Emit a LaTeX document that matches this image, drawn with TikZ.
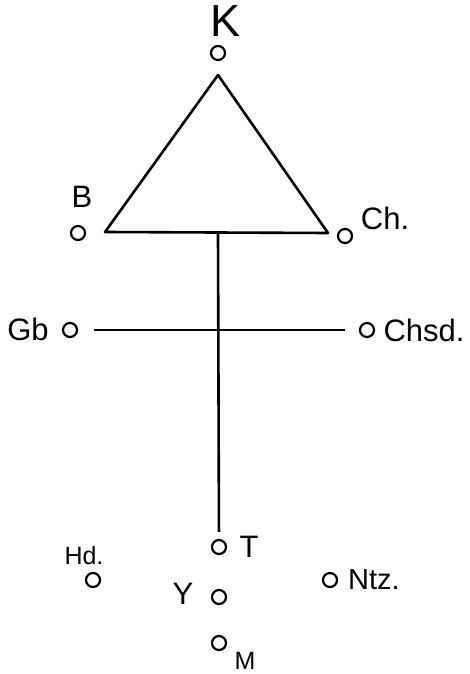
\documentclass[tikz,border=0pt]{standalone}
\usepackage{fontspec}
\setmainfont{Liberation Sans}
\usetikzlibrary{positioning}
\tikzset{
  station/.style={
    circle,
    draw,
    line width=2.2pt,
    minimum size=14pt,
    inner sep=0pt
  },
  bigtag/.style={inner sep=0pt, font=\fontsize{45}{47}\selectfont},
  tag/.style={inner sep=0pt, font=\fontsize{31}{33}\selectfont},
  smalltag/.style={inner sep=0pt, font=\fontsize{25}{27}\selectfont},
  edge/.style={line width=2.6pt, line join=round}
}
\begin{document}
\begin{tikzpicture}[x=1pt, y=-1pt]
\useasboundingbox (0,0) rectangle (469,674);
% stations
\node[station] (k) at (218,53) {};
\node[station] (b) at (78,233) {};
\node[station] (ch) at (345,236) {};
\node[station] (gb) at (70,330) {};
\node[station] (chsd) at (367,330) {};
\node[station] (t) at (219,547) {};
\node[station] (hd) at (93,580) {};
\node[station] (y) at (219,597) {};
\node[station] (m) at (219,643) {};
\node[station] (ntz) at (330,580) {};
% labels
\node[bigtag] (klbl) at (226,21) {K};
\node[tag] (blbl) at (82,197) {B};
\node[tag] (chlbl) at (385,218) {Ch.};
\node[tag] (gblbl) at (28,329) {Gb};
\node[tag] (chsdlbl) at (424,330) {Chsd.};
\node[tag] (tlbl) at (249,547) {T};
\node[smalltag] (hdlbl) at (84,556) {Hd.};
\node[tag] (ylbl) at (183,594) {Y};
\node[smalltag] (mlbl) at (245,661) {M};
\node[font=\fontsize{29}{31}\selectfont, inner sep=0pt] (ntzlbl) at (374,580) {Ntz.};
% triangle
\coordinate (apex) at (218,75);
\coordinate (left) at (105,232);
\coordinate (right) at (328,233);
\coordinate (base) at (218,233);
\draw[edge] (apex) -- (left) -- (right) -- cycle;
% crossing lines
\draw[edge, shorten >=7pt] (base) -- (t);
\draw[edge, shorten <=16pt, shorten >=14pt] (gb) -- (chsd);
\end{tikzpicture}
\end{document}
